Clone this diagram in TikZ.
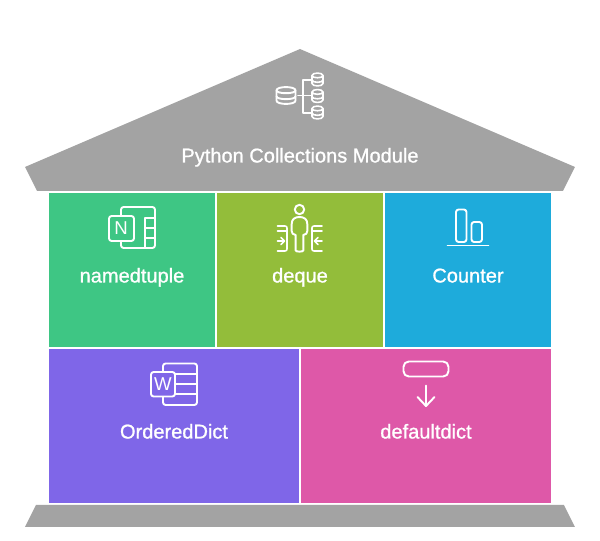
\documentclass[tikz,border=0pt]{standalone}
\usepackage{fontspec}
\setmainfont[FakeBold=1]{Liberation Sans}
\newfontfamily\glyphfont{Liberation Sans}
\definecolor{roofgray}{HTML}{A3A3A3}
\definecolor{tuplegreen}{HTML}{3EC684}
\definecolor{dequeolive}{HTML}{93BD3A}
\definecolor{counterblue}{HTML}{1EABDB}
\definecolor{dictpurple}{HTML}{7F66E8}
\definecolor{defaultpink}{HTML}{DE58A8}
\tikzset{
  caption/.style={text=white,font=\fontsize{11.4}{13}\selectfont,inner sep=0pt,anchor=base},
  glyph/.style={text=white,font=\glyphfont\fontsize{10.6}{12}\selectfont,inner sep=0pt},
  icon/.style={draw=white,line width=1.1pt,line cap=round,line join=round},
  thinicon/.style={icon,line width=0.9pt}
}
% small database can: style, left, top, width, height
\newcommand{\dbcan}[5][icon]{
  \draw[#1] (#2,#3+#5*0.2) .. controls (#2,#3-#5*0.06) and (#2+#4,#3-#5*0.06) .. (#2+#4,#3+#5*0.2)
    -- (#2+#4,#3+#5*0.8) .. controls (#2+#4,#3+#5*1.06) and (#2,#3+#5*1.06) .. (#2,#3+#5*0.8) -- cycle;
  \draw[#1] (#2,#3+#5*0.2) .. controls (#2,#3+#5*0.42) and (#2+#4,#3+#5*0.42) .. (#2+#4,#3+#5*0.2);
  \draw[#1] (#2,#3+#5*0.55) .. controls (#2,#3+#5*0.77) and (#2+#4,#3+#5*0.77) .. (#2+#4,#3+#5*0.55);
}
\begin{document}
\begin{tikzpicture}[x=0.02cm,y=-0.02cm]
\useasboundingbox (0,0) rectangle (600,541);

\fill[roofgray] (300,49) -- (575,167) -- (563,191) -- (37,191) -- (25,167) -- cycle; % roof
\fill[roofgray] (36,505) -- (564,505) -- (575,527) -- (25,527) -- cycle; % base

\fill[tuplegreen] (49,193) rectangle (215,347);
\fill[dequeolive] (217,193) rectangle (383,347);
\fill[counterblue] (385,193) rectangle (551,347);
\fill[dictpurple] (49,349) rectangle (299,503);
\fill[defaultpink] (301,349) rectangle (551,503);

\node[caption] (title) at (300,162.5) {Python Collections Module};
\node[caption] (namedtuple) at (132,282.5) {namedtuple};
\node[caption] (deque) at (300,282.5) {deque};
\node[caption] (counter) at (468,282.5) {Counter};
\node[caption] (ordereddict) at (174,438.5) {OrderedDict};
\node[caption] (defaultdict) at (426,438.5) {defaultdict};

% database icon
\dbcan{276.5}{87}{19}{17}
\dbcan[thinicon]{312}{73}{11}{13}
\dbcan[thinicon]{312}{89.5}{11}{13}
\dbcan[thinicon]{312}{106}{11}{13}
\draw[icon] (312,80) -- (303,80) -- (303,113) -- (312,113); % bracket
\draw[icon] (298,95.5) -- (312,95.5);

% namedtuple icon
\draw[icon,rounded corners=1.5] (121,207) rectangle (155,248);
\draw[icon] (145,218) -- (145,248);
\draw[icon] (145,218) -- (155,218);
\draw[icon] (145,228) -- (155,228);
\draw[icon] (145,238) -- (155,238);
\draw[icon,fill=tuplegreen,rounded corners=1.5] (109,216) rectangle (134,241);
\node[glyph] (nletter) at (121,228.5) {N};

% deque icon
\draw[icon] (299.5,209.5) circle (4.7);
\draw[icon] (295.7,250.5) -- (295.7,235) .. controls (293,235) and (291.7,233) .. (291.7,231)
  -- (291.7,224) .. controls (291.7,219) and (295,217) .. (299.5,217)
  .. controls (304,217) and (307.3,219) .. (307.3,224) -- (307.3,231)
  .. controls (307.3,233) and (306,235) .. (303.3,235) -- (303.3,250.5)
  .. controls (303.3,252) and (295.7,252) .. (295.7,250.5);
\draw[thinicon] (277.5,226) -- (285,226) .. controls (286.5,226) and (287,227) .. (287,228) -- (287,249)
  .. controls (287,250) and (286.5,251) .. (285,251) -- (277.5,251);
\draw[thinicon] (277.5,231) -- (287,231);
\draw[thinicon] (277.5,241) -- (284,241);
\draw[thinicon] (281,237.5) -- (284.5,241) -- (281,244.5);
\draw[thinicon] (322,226) -- (314,226) .. controls (312.5,226) and (312,227) .. (312,228) -- (312,249)
  .. controls (312,250) and (312.5,251) .. (314,251) -- (322,251);
\draw[thinicon] (322,231) -- (312,231);
\draw[thinicon] (322,241) -- (315,241);
\draw[thinicon] (318,237.5) -- (314.5,241) -- (318,244.5);

% counter icon
\draw[icon,rounded corners=1.5] (456,209.5) rectangle (466.5,242);
\draw[icon,rounded corners=1.5] (471.5,222) rectangle (482,242);
\draw[icon] (447.5,245.5) -- (488.5,245.5);

% ordereddict icon
\draw[icon,rounded corners=1.5] (163,363.5) rectangle (197,405);
\draw[icon] (175,374) -- (197,374);
\draw[icon] (175,384) -- (197,384);
\draw[icon] (175,394) -- (197,394);
\draw[icon,fill=dictpurple,rounded corners=1.5] (151,372) rectangle (175,396.5);
\node[glyph] (wletter) at (163,384.5) {W};

% defaultdict icon
\draw[icon,rounded corners=3] (403.5,361.5) rectangle (448.5,376.5);
\draw[icon] (426,385.5) -- (426,406);
\draw[icon] (417.5,397) -- (426,406) -- (434.5,397);
\end{tikzpicture}
\end{document}
